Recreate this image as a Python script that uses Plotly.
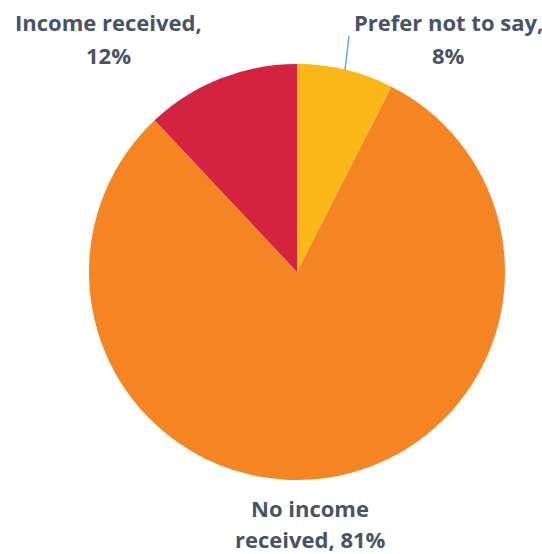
import plotly.graph_objects as go

labels = ["Prefer not to say", "No income received", "Income received"]
values = [7.5, 80.5, 12.0]
display_pct = ["8%", "81%", "12%"]
colors = ["#FBB718", "#F58423", "#D42340"]

W, H = 542, 554

fig = go.Figure(go.Pie(
    labels=labels,
    values=values,
    sort=False,
    direction="clockwise",
    rotation=0,
    marker=dict(colors=colors, line=dict(width=0)),
    textinfo="none",
    hoverinfo="label+percent",
    showlegend=False,
    domain=dict(x=[0.1642, 0.9317], y=[0.1336, 0.8845]),
))

font = dict(family="Open Sans, Lato, sans-serif", size=22, color="#475467")
ann_lines = [
    ("Prefer not to say,", 448, 22),
    (display_pct[0], 448, 55),
    ("No income", 310, 508),
    ("received, " + display_pct[1], 310, 539),
    ("Income received,", 108, 22),
    (display_pct[2], 108, 55),
]
for t, x, y in ann_lines:
    fig.add_annotation(text="<b>%s</b>" % t, x=x / W, y=(H - y) / H,
                       xref="paper", yref="paper",
                       showarrow=False, font=font, align="center",
                       xanchor="center", yanchor="middle",
                       borderpad=0)

fig.add_shape(type="line", xref="paper", yref="paper",
              x0=345 / W, y0=(H - 70) / H, x1=349 / W, y1=(H - 36) / H,
              line=dict(color="#5AABF2", width=1.5))

fig.update_layout(width=W, height=H, margin=dict(l=0, r=0, t=0, b=0),
                  paper_bgcolor="white", plot_bgcolor="white")
fig.write_html("out.html")
